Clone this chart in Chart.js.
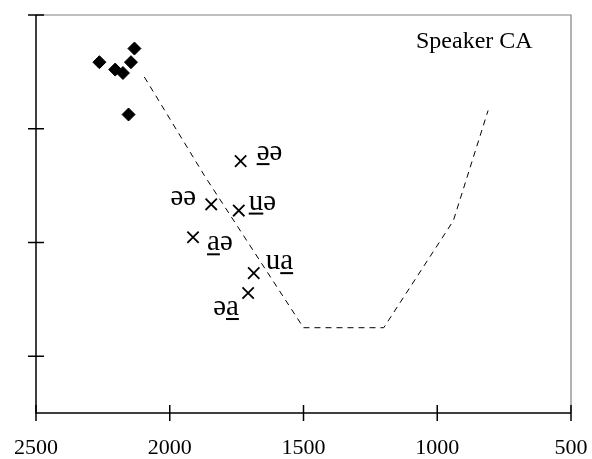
<!DOCTYPE html>
<html>
<head>
<meta charset="utf-8">
<script src="https://cdn.jsdelivr.net/npm/chart.js@4/dist/chart.umd.min.js"></script>
<style>
  html, body { margin: 0; padding: 0; background: #fff; }
  #wrap { width: 592px; height: 459px; }
</style>
</head>
<body>
<div id="wrap"><canvas id="vowels" width="592" height="459"></canvas></div>
<script>
'use strict';

// F2 / F1 values (Hz)
const monoF2 = [2263, 2204, 2175, 2145, 2132, 2154];
const monoF1 = [283, 296, 302, 283, 259, 375];

const diphF2 = [1735, 1845, 1742, 1913, 1686, 1707];
const diphF1 = [457, 533, 544, 591, 654, 689];
const diphLabels = ['əə', 'əə', 'uə', 'aə', 'ua', 'əa'];
const diphUnderline = [0, -1, 0, 0, 1, 1];

const spaceF2 = [2095, 1871, 1500, 1200, 940, 810];
const spaceF1 = [309, 482, 750, 750, 562, 368];

const xTicks = [2500, 2000, 1500, 1000, 500];
const yTicks = [200, 400, 600, 800];

const serif = "'Liberation Serif', 'Times New Roman', 'DejaVu Serif', serif";

function toPoints(xs, ys) {
    return xs.map((x, i) => ({ x: x, y: ys[i] }));
}

// label placement next to each diphthong marker: [dx, dy, anchor]
const labelOffsets = [
    [16, -8, 'left'],
    [-15, -6, 'right'],
    [10, -8, 'left'],
    [14, 6, 'left'],
    [12, -11, 'left'],
    [-35, 15, 'left']
];

const axesPlugin = {
    id: 'axesPlugin',
    afterDraw(chart) {
        const ctx = chart.ctx;
        const area = chart.chartArea;
        const xs = chart.scales.x;
        const ys = chart.scales.y;
        ctx.save();

        // grey top/right frame
        ctx.strokeStyle = '#808080';
        ctx.lineWidth = 1.2;
        ctx.beginPath();
        ctx.moveTo(area.left, area.top);
        ctx.lineTo(area.right, area.top);
        ctx.lineTo(area.right, area.bottom);
        ctx.stroke();

        // black left/bottom axes
        ctx.strokeStyle = '#000';
        ctx.lineWidth = 1.5;
        ctx.beginPath();
        ctx.moveTo(area.left, area.top);
        ctx.lineTo(area.left, area.bottom);
        ctx.lineTo(area.right, area.bottom);
        ctx.stroke();

        ctx.beginPath();
        yTicks.forEach(v => {
            const py = ys.getPixelForValue(v);
            ctx.moveTo(area.left - 8, py);
            ctx.lineTo(area.left + 8, py);
        });
        xTicks.forEach(v => {
            const px = xs.getPixelForValue(v);
            ctx.moveTo(px, area.bottom - 8);
            ctx.lineTo(px, area.bottom + 8);
        });
        ctx.stroke();

        // speaker caption
        ctx.fillStyle = '#000';
        ctx.font = '24px ' + serif;
        ctx.textAlign = 'left';
        ctx.textBaseline = 'middle';
        ctx.fillText('Speaker CA', 416, 42);

        // diphthong labels, with the stressed element underlined
        ctx.font = '29px ' + serif;
        diphLabels.forEach((txt, i) => {
            const px = xs.getPixelForValue(diphF2[i]);
            const py = ys.getPixelForValue(diphF1[i]);
            const off = labelOffsets[i];
            const w = ctx.measureText(txt).width;
            let left = px + off[0];
            if (off[2] === 'right') left -= w;
            const cy = py + off[1];
            ctx.textAlign = 'left';
            ctx.textBaseline = 'alphabetic';
            const base = cy + 7;
            ctx.fillText(txt, left, base);
            const u = diphUnderline[i];
            if (u >= 0) {
                const pre = ctx.measureText(txt.slice(0, u)).width;
                const cw = ctx.measureText(txt[u]).width;
                ctx.fillRect(left + pre, base + 3, cw, 2);
            }
        });
        ctx.restore();
    }
};

new Chart(document.getElementById('vowels'), {
    type: 'scatter',
    data: {
        datasets: [
            {
                label: 'monophthongs',
                data: toPoints(monoF2, monoF1),
                pointStyle: 'rectRot',
                radius: 6.5,
                backgroundColor: '#000',
                borderColor: '#000',
                borderWidth: 1
            },
            {
                label: 'diphthongs',
                data: toPoints(diphF2, diphF1),
                pointStyle: 'crossRot',
                radius: 8,
                borderColor: '#000',
                borderWidth: 1.8
            },
            {
                label: 'vowel space',
                data: toPoints(spaceF2, spaceF1),
                showLine: true,
                borderColor: '#000',
                borderWidth: 1,
                borderDash: [6, 5],
                pointRadius: 0,
                fill: false
            }
        ]
    },
    options: {
        responsive: false,
        animation: false,
        layout: { padding: { top: 15, right: 21, left: 0, bottom: 0 } },
        plugins: {
            legend: { display: false },
            tooltip: { enabled: false }
        },
        scales: {
            x: {
                type: 'linear',
                reverse: true,
                min: 500,
                max: 2500,
                grid: { display: false },
                border: { display: false },
                ticks: {
                    stepSize: 500,
                    color: '#000',
                    padding: 14,
                    font: { family: serif, size: 22 },
                    callback: v => String(v)
                },
                afterFit(scale) {
                    scale.height = 46;
                    scale.paddingLeft = 0;
                    scale.paddingRight = 0;
                }
            },
            y: {
                type: 'linear',
                reverse: true,
                min: 200,
                max: 900,
                grid: { display: false },
                border: { display: false },
                ticks: { display: false },
                afterFit(scale) { scale.width = 36; }
            }
        }
    },
    plugins: [axesPlugin]
});
</script>
</body>
</html>
